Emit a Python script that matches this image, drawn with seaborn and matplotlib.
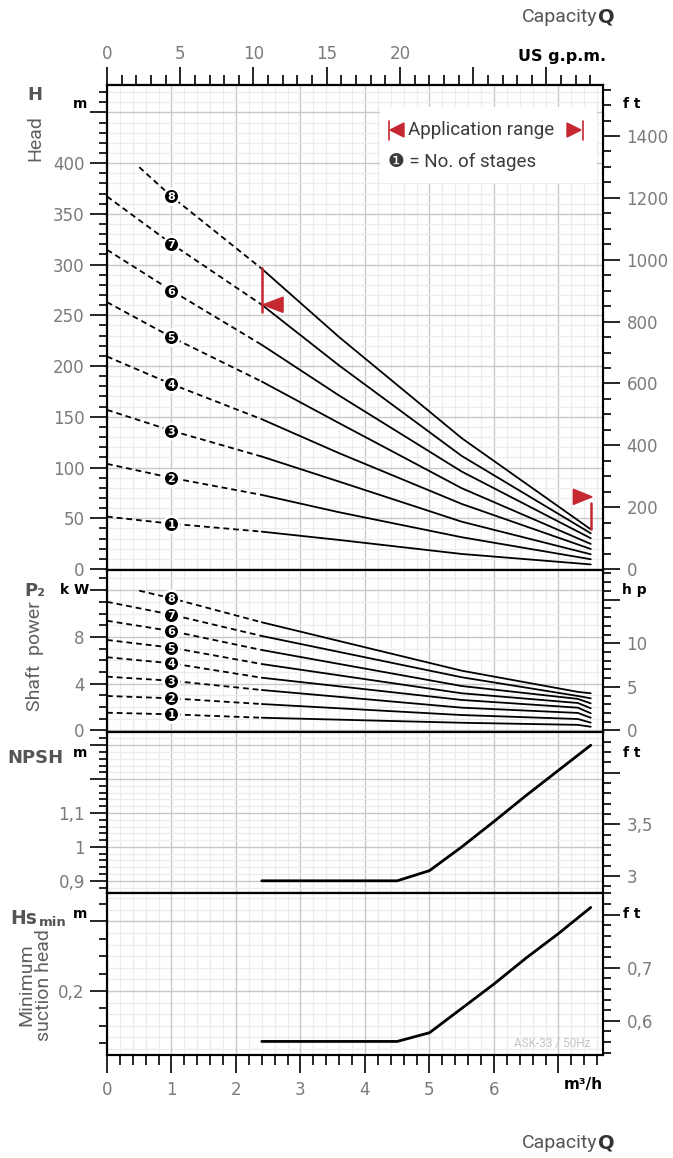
import numpy as np
import pandas as pd
import matplotlib
matplotlib.use("Agg")
import matplotlib.pyplot as plt
import seaborn as sns
from matplotlib.ticker import MultipleLocator, FuncFormatter
from matplotlib.patches import Rectangle, Polygon
from matplotlib.lines import Line2D

# ---------------- data ----------------
stages = [1, 2, 3, 4, 5, 6, 7, 8]
q_head = [0, 1, 2.4, 3.6, 5.5, 7.5]
q_head8 = [0.5, 1, 2.4, 3.6, 5.5, 7.5]
head_1 = [51.6, 44.6, 36.8, 28.6, 14.8, 4.5]
head_2 = [103.6, 89.8, 73.0, 55.9, 31.3, 9.6]
head_3 = [156.8, 136.3, 110.8, 86.1, 46.6, 14.5]
head_4 = [209.4, 182.2, 147.6, 114.1, 64.1, 19.7]
head_5 = [263.0, 228.5, 184.7, 143.7, 79.6, 24.7]
head_6 = [314.6, 274.4, 220.9, 170.9, 96.0, 30.3]
head_7 = [367.2, 320.5, 260.4, 200.5, 111.4, 35.2]
head_8 = [396.0, 367.2, 295.9, 228.5, 128.9, 39.1]

q_pow = [0, 1, 2.4, 5.5, 7.3, 7.5]
q_pow8 = [0.5, 1, 2.4, 5.5, 7.3, 7.5]
pow_1 = [1.52, 1.38, 1.09, 0.66, 0.48, 0.32]
pow_2 = [2.95, 2.75, 2.26, 1.32, 0.98, 0.67]
pow_3 = [4.60, 4.25, 3.46, 1.95, 1.50, 1.09]
pow_4 = [6.26, 5.74, 4.51, 2.61, 1.95, 1.47]
pow_5 = [7.74, 7.08, 5.68, 3.18, 2.35, 1.90]
pow_6 = [9.38, 8.50, 6.88, 3.80, 2.70, 2.32]
pow_7 = [11.00, 9.90, 8.08, 4.55, 2.95, 2.75]
pow_8 = [11.95, 11.30, 9.25, 5.11, 3.30, 3.18]

q_npsh = [2.4, 4.5, 5.0, 5.5, 6.0, 6.5, 7.0, 7.5]
npsh_m = [0.90, 0.90, 0.93, 1.00, 1.075, 1.152, 1.226, 1.30]
hs_m = [0.171, 0.171, 0.176, 0.190, 0.204, 0.219, 0.233, 0.248]

q_split = 2.4  # start of the solid (recommended) part of the curves
x_labels = ["0", "1", "2", "3", "4", "5", "6"]

heads = [head_1, head_2, head_3, head_4, head_5, head_6, head_7, head_8]
powers = [pow_1, pow_2, pow_3, pow_4, pow_5, pow_6, pow_7, pow_8]

# ---------------- style ----------------
sns.set_theme(style="white")
plt.rcParams["font.family"] = ["DejaVu Sans"]
TICKC = "#7a7a7a"
RED = "#c62832"
MAJG = "#c8c8c8"
MING = "#ececec"
LIGHTFAM = ["Roboto", "DejaVu Sans", "Noto Sans CJK JP"]

W, H = 673, 1158
fig = plt.figure(figsize=(W / 100, H / 100), dpi=100)
fig.patch.set_facecolor("white")


def rect(top, bottom):
    return [107 / W, 1 - bottom / H, (603 - 107) / W, (bottom - top) / H]


def fx(x):
    return x / W


def fy(y):
    return 1 - y / H


ax_h = fig.add_axes(rect(85, 570))
ax_p = fig.add_axes(rect(570, 732))
ax_n = fig.add_axes(rect(732, 893))
ax_s = fig.add_axes(rect(893, 1055))
axes = [ax_h, ax_p, ax_n, ax_s]

XMAX = 7.69
ax_h.set_ylim(-1, 477)
ax_p.set_ylim(-0.13, 13.72)
ax_n.set_ylim(0.864, 1.339)
ax_s.set_ylim(0.1632, 0.2563)

for ax in axes:
    ax.set_xlim(0, XMAX)
    ax.xaxis.set_major_locator(MultipleLocator(1))
    ax.xaxis.set_minor_locator(MultipleLocator(0.2))
    ax.set_axisbelow(True)
    ax.grid(which="major", axis="x", color=MAJG, lw=1.0)
    ax.grid(which="minor", axis="x", color=MING, lw=0.9)
    for sp in ax.spines.values():
        sp.set_visible(True)
        sp.set_color("black")
        sp.set_linewidth(1.5)
    ax.tick_params(axis="y", which="both", left=True, right=False, direction="out",
                   color="black", labelcolor=TICKC, labelsize=12, pad=4)
    ax.tick_params(axis="y", which="major", length=12, width=1.2)
    ax.tick_params(axis="y", which="minor", length=6, width=1.2)
    ax.set_xlabel("")
    ax.set_ylabel("")

for ax in [ax_h, ax_p, ax_n]:
    ax.tick_params(axis="x", which="both", length=0, labelbottom=False, bottom=False)


def comma(v, nd=2):
    s = f"{v:.{nd}f}".rstrip("0").rstrip(".")
    return s.replace(".", ",")


# y locators / grids
ax_h.yaxis.set_major_locator(MultipleLocator(50))
ax_h.yaxis.set_minor_locator(MultipleLocator(10))
ax_h.yaxis.set_major_formatter(FuncFormatter(lambda v, p: "" if v > 420 else f"{v:.0f}"))
ax_p.yaxis.set_major_locator(MultipleLocator(4))
ax_p.yaxis.set_minor_locator(MultipleLocator(1))
ax_p.yaxis.set_major_formatter(FuncFormatter(lambda v, p: "" if v > 10 else f"{v:.0f}"))
ax_n.yaxis.set_major_locator(MultipleLocator(0.1))
ax_n.yaxis.set_minor_locator(MultipleLocator(0.02))
ax_n.yaxis.set_major_formatter(FuncFormatter(lambda v, p: "" if v > 1.15 else comma(round(v, 2))))
ax_s.yaxis.set_major_locator(MultipleLocator(0.04))
ax_s.yaxis.set_minor_locator(MultipleLocator(0.01))
ax_s.yaxis.set_major_formatter(FuncFormatter(lambda v, p: comma(round(v, 2)) if abs(v - 0.2) < 1e-6 else ""))

for ax in [ax_h, ax_p, ax_n]:
    ax.grid(which="major", axis="y", color=MAJG, lw=1.0)
    ax.grid(which="minor", axis="y", color=MING, lw=0.9)
ax_s.grid(which="major", axis="y", color=MAJG, lw=1.0)
for yv in np.arange(0.16, 0.26, 0.04 / 6):
    ax_s.axhline(yv, color=MING, lw=0.9, zorder=0.3)

# bottom x axis
ax_s.tick_params(axis="x", which="both", bottom=True, direction="out", color="black",
                 labelcolor=TICKC, labelsize=12, pad=6)
ax_s.tick_params(axis="x", which="major", length=13, width=1.2)
ax_s.tick_params(axis="x", which="minor", length=7, width=1.2)
ax_s.xaxis.set_major_formatter(FuncFormatter(
    lambda v, p: x_labels[int(round(v))] if int(round(v)) < len(x_labels) else ""))

# top US gpm axis
GPM = 0.2271247
sec = ax_h.secondary_xaxis("top", functions=(lambda q: q / GPM, lambda g: g * GPM))
sec.xaxis.set_major_locator(MultipleLocator(5))
sec.xaxis.set_minor_locator(MultipleLocator(1))
sec.xaxis.set_major_formatter(FuncFormatter(lambda v, p: "" if v > 22 else f"{v:.0f}"))
sec.tick_params(axis="x", which="both", top=True, direction="out", color="black",
                labelcolor=TICKC, labelsize=12, pad=3)
sec.tick_params(axis="x", which="major", length=13, width=1.2)
sec.tick_params(axis="x", which="minor", length=7, width=1.2)
sec.spines["top"].set_linewidth(1.5)


# right twin axes
def twin(ax, factor, major, minor, fmt):
    t = ax.twinx()
    lo, hi = ax.get_ylim()
    t.set_ylim(lo / factor, hi / factor)
    t.yaxis.set_major_locator(MultipleLocator(major))
    t.yaxis.set_minor_locator(MultipleLocator(minor))
    t.yaxis.set_major_formatter(FuncFormatter(fmt))
    t.tick_params(axis="y", which="both", right=True, left=False, direction="out",
                  color="black", labelcolor=TICKC, labelsize=12, pad=5)
    t.tick_params(axis="y", which="major", length=12, width=1.2)
    t.tick_params(axis="y", which="minor", length=6, width=1.2)
    t.grid(False)
    for sp in t.spines.values():
        sp.set_color("black")
        sp.set_linewidth(1.5)
    return t


FT = 0.3048
twin(ax_h, FT, 200, 50, lambda v, p: "" if v > 1450 else f"{v:.0f}")
twin(ax_p, 0.7457, 5, 1, lambda v, p: "" if v > 12 else f"{v:.0f}")
twin(ax_n, FT, 0.5, 0.1, lambda v, p: "" if v > 3.8 else comma(round(v, 2)))
twin(ax_s, FT, 0.1, 0.02, lambda v, p: "" if v > 0.75 else comma(round(v, 2)))

# ---------------- curves ----------------
def curve_frame(qs, q8, series):
    rows = []
    for st, vals in zip(stages, series):
        qq = q8 if st == 8 else qs
        for q, v in zip(qq, vals):
            if q <= q_split:
                rows.append((st, "dashed", q, v))
            if q >= q_split:
                rows.append((st, "solid", q, v))
    return pd.DataFrame(rows, columns=["stage", "part", "Q", "val"])


df_h = curve_frame(q_head, q_head8, heads)
df_p = curve_frame(q_pow, q_pow8, powers)

for ax, df in [(ax_h, df_h), (ax_p, df_p)]:
    sns.lineplot(data=df, x="Q", y="val", units="stage", style="part",
                 dashes={"dashed": (3.2, 2.2), "solid": ""}, estimator=None,
                 sort=False, color="black", lw=1.3, legend=False, ax=ax, zorder=3)
    ax.set_xlabel("")
    ax.set_ylabel("")
    # stage number badges at Q = 1
    lab = df[(df["Q"] == 1) & (df["part"] == "dashed")]
    ax.scatter(lab["Q"], lab["val"], s=125, color="black", edgecolor="white",
               linewidth=1.8, zorder=5)
    for _, r in lab.iterrows():
        ax.text(r["Q"], r["val"], str(int(r["stage"])), color="white", fontsize=8,
                fontweight="bold", ha="center", va="center_baseline", zorder=6)

df_n = pd.DataFrame({"Q": q_npsh, "npsh": npsh_m, "hs": hs_m})
sns.lineplot(data=df_n, x="Q", y="npsh", color="black", lw=2.0, ax=ax_n,
             estimator=None, sort=False, zorder=3)
sns.lineplot(data=df_n, x="Q", y="hs", color="black", lw=2.0, ax=ax_s,
             estimator=None, sort=False, zorder=3)
for ax in [ax_n, ax_s]:
    ax.set_xlabel("")
    ax.set_ylabel("")

# ---------------- application range markers ----------------
q_end = q_head[-1]
ax_h.plot([q_split, q_split], [head_8[2] + 1, head_7[2] - 7], color=RED, lw=1.8, zorder=4)
ax_h.add_patch(Polygon([[q_split + 0.02, head_7[2]], [q_split + 0.33, head_7[2] + 7.5],
                        [q_split + 0.33, head_7[2] - 7.5]], closed=True, color=RED, zorder=4))
ax_h.plot([q_end, q_end], [head_8[-1], head_8[-1] + 26], color=RED, lw=1.8, zorder=4)
ax_h.add_patch(Polygon([[q_end + 0.02, head_8[-1] + 32], [q_end - 0.27, head_8[-1] + 39.5],
                        [q_end - 0.27, head_8[-1] + 24.5]], closed=True, color=RED, zorder=4))

# ---------------- legend box ----------------
ax_h.add_patch(Rectangle((4.23, 380), 3.37, 75, facecolor="white", edgecolor="none", zorder=1))
fig.add_artist(Line2D([fx(389), fx(389)], [fy(121), fy(140)], color=RED, lw=1.2))
fig.add_artist(Polygon([[fx(390), fy(130)], [fx(404), fy(123)], [fx(404), fy(137)]],
                       closed=True, color=RED, transform=fig.transFigure))
fig.add_artist(Polygon([[fx(581), fy(130)], [fx(567), fy(123)], [fx(567), fy(137)]],
                       closed=True, color=RED, transform=fig.transFigure))
fig.add_artist(Line2D([fx(583), fx(583)], [fy(121), fy(140)], color=RED, lw=1.2))
fig.text(fx(408), fy(130), "Application range", fontsize=13.5, color="#3a3a3a",
         ha="left", va="center", family=LIGHTFAM)
fig.text(fx(388), fy(162), "\u2776 = No. of stages", fontsize=13.5, color="#3a3a3a",
         ha="left", va="center", family=LIGHTFAM)

# ---------------- labels ----------------
GR = "#555555"
LG = "#606060"
fig.text(fx(35), fy(95), "H", fontsize=13, fontweight="bold", color=GR, ha="center", va="center")
fig.text(fx(35), fy(138), "Head", fontsize=14, color=LG, rotation=90, ha="center", va="center",
         family=LIGHTFAM)
fig.text(fx(35), fy(591), "P\u2082", fontsize=13, fontweight="bold", color=GR, ha="center", va="center")
fig.text(fx(35), fy(656), "Shaft  power", fontsize=14, color=LG, rotation=90, ha="center", va="center",
         family=LIGHTFAM)
fig.text(fx(35), fy(758), "NPSH", fontsize=13, fontweight="bold", color=GR, ha="center", va="center")
fig.text(fx(24), fy(918), "Hs", fontsize=13.5, fontweight="bold", color=GR, ha="center", va="center")
fig.text(fx(39), fy(922), "min", fontsize=9.5, fontweight="bold", color=GR, ha="left", va="center")
fig.text(fx(35), fy(985), "Minimum\nsuction head", fontsize=14, color=LG, rotation=90,
         ha="center", va="center", linespacing=0.95, multialignment="center",
         family=LIGHTFAM)

for (x, y, s) in [(80, 104, "m"), (75, 590, "k W"), (80, 753, "m"), (80, 914, "m"),
                  (632, 104, "f t"), (634, 590, "h p"), (632, 753, "f t"), (632, 914, "f t")]:
    fig.text(fx(x), fy(y), s, fontsize=10, fontweight="bold", color="black", ha="center", va="center")

fig.text(fx(606), fy(57), "US g.p.m.", fontsize=11.5, fontweight="bold", color="black",
         ha="right", va="center")
fig.text(fx(603), fy(1084), "m\u00b3/h", fontsize=11, fontweight="bold", color="black",
         ha="right", va="center")

for yy in (17, 1143):
    fig.text(fx(615), fy(yy), "Q", fontsize=14, fontweight="bold", color="#333333", ha="right", va="center")
    fig.text(fx(597), fy(yy), "Capacity", fontsize=14, color="#555555", ha="right", va="center",
             family=LIGHTFAM)

fig.text(fx(591), fy(1043), "ASK-33 / 50Hz", fontsize=8.5, color="#c4c4c4", ha="right", va="center",
         family=LIGHTFAM)

fig.savefig("out.png", dpi=100, facecolor="white")
